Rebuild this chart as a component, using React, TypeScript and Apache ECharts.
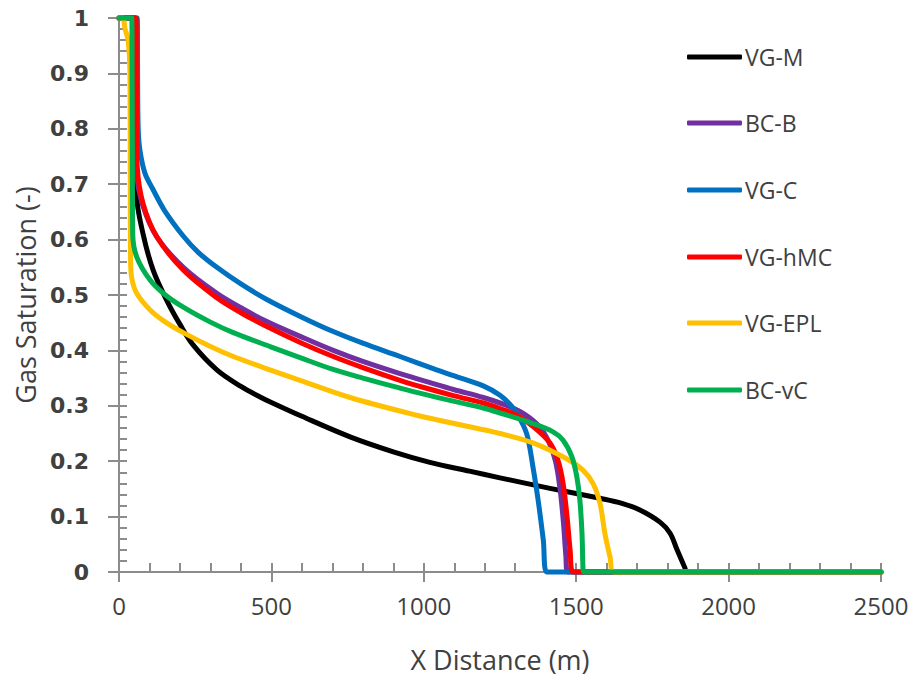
import React, { useEffect, useRef } from "react";
import * as echarts from "echarts";

// Gas saturation profiles along the x distance, one per relative-permeability model
const seriesNames = ["VG-M", "BC-B", "VG-C", "VG-hMC", "VG-EPL", "BC-vC"];
const seriesColors = ["#000000", "#7030A0", "#0070C0", "#FF0000", "#FFC000", "#00B050"];

const vgM: [number, number][] = [
  [0, 1], [52, 1], [56, 0.85], [58, 0.68], [79, 0.61], [112, 0.545], [157, 0.49],
  [200, 0.447], [243, 0.41], [321, 0.365], [400, 0.335], [463, 0.316], [500, 0.306],
  [600, 0.281], [758, 0.244], [900, 0.217], [1020, 0.198], [1150, 0.182], [1250, 0.17],
  [1414, 0.151], [1578, 0.133], [1650, 0.124], [1709, 0.112], [1775, 0.09], [1808, 0.07],
  [1831, 0.04], [1857, 0.007], [1862, 0], [2500, 0],
];

const bcB: [number, number][] = [
  [0, 1], [54, 1], [55, 0.9], [56, 0.78], [58, 0.72], [79, 0.66], [124, 0.605],
  [211, 0.55], [321, 0.503], [400, 0.477], [485, 0.452], [600, 0.424], [703, 0.4],
  [800, 0.38], [922, 0.358], [1031, 0.34], [1100, 0.329], [1195, 0.315], [1270, 0.301],
  [1330, 0.285], [1380, 0.262], [1410, 0.235], [1432, 0.2], [1447, 0.15], [1458, 0.09],
  [1466, 0.03], [1472, 0], [2500, 0],
];

const vgC: [number, number][] = [
  [0, 1], [60, 1], [61, 0.9], [63, 0.8], [69, 0.76], [85, 0.72], [112, 0.69],
  [150, 0.652], [210, 0.607], [260, 0.577], [321, 0.55], [400, 0.52], [485, 0.492],
  [600, 0.46], [703, 0.434], [800, 0.413], [922, 0.389], [1031, 0.367], [1100, 0.354],
  [1195, 0.336], [1250, 0.319], [1290, 0.298], [1320, 0.272], [1340, 0.245],
  [1358, 0.19], [1375, 0.13], [1392, 0.058], [1404, 0], [2500, 0],
];

const vgHMC: [number, number][] = [
  [0, 1], [56, 1], [57, 0.9], [58, 0.78], [60, 0.73], [79, 0.665], [124, 0.605],
  [211, 0.545], [321, 0.495], [400, 0.468], [485, 0.443], [600, 0.413], [703, 0.389],
  [800, 0.369], [922, 0.346], [1000, 0.333], [1100, 0.318], [1195, 0.305], [1250, 0.295],
  [1306, 0.283], [1358, 0.263], [1414, 0.233], [1440, 0.202], [1457, 0.16],
  [1470, 0.1], [1480, 0.04], [1490, 0], [2500, 0],
];

const vgEPL: [number, number][] = [
  [0, 1], [12, 1], [20, 0.98], [30, 0.96], [36, 0.9], [37, 0.7], [38, 0.56],
  [42, 0.53], [58, 0.503], [102, 0.473], [150, 0.452], [211, 0.432], [300, 0.407],
  [375, 0.389], [500, 0.364], [594, 0.346], [758, 0.315], [977, 0.283], [1100, 0.268],
  [1250, 0.25], [1358, 0.233], [1470, 0.204], [1522, 0.184], [1555, 0.16],
  [1578, 0.124], [1594, 0.07], [1611, 0.027], [1624, 0], [2500, 0],
];

const bcVC: [number, number][] = [
  [0, 1], [42, 1], [43, 0.9], [44, 0.7], [45, 0.61], [58, 0.569], [102, 0.527],
  [150, 0.501], [211, 0.478], [300, 0.451], [375, 0.432], [500, 0.406], [594, 0.387],
  [700, 0.366], [800, 0.35], [922, 0.332], [1000, 0.321], [1100, 0.308],
  [1195, 0.296], [1250, 0.287], [1358, 0.268], [1424, 0.253], [1457, 0.238],
  [1486, 0.208], [1502, 0.172], [1512, 0.13], [1519, 0.07], [1522, 0.01],
  [1524, 0], [2500, 0],
];

const seriesData = [vgM, bcB, vgC, vgHMC, vgEPL, bcVC];

// Vertical centre of each legend row, in pixels
const legendRows = [57, 123, 190, 257, 323, 390];

const xTicks = { min: 0, max: 2500, major: 500, minor: 100 };
const yTicks = { min: 0, max: 1, major: 0.1, minor: 0.02 };

const axisGray = "#8c8c8c";
const textColor = "#404040";
const sansFont = "'Open Sans', Lato, sans-serif";

export default function App() {
  const ref = useRef<HTMLDivElement>(null);

  useEffect(() => {
    if (!ref.current) return;
    const chart = echarts.init(ref.current, undefined, { renderer: "svg" });

    const option: echarts.EChartsOption = {
      animation: false,
      backgroundColor: "#ffffff",
      grid: { left: 119, right: 38, top: 18, bottom: 110, containLabel: false },
      xAxis: [
        {
          type: "value",
          min: xTicks.min,
          max: xTicks.max,
          interval: xTicks.major,
          name: "X Distance (m)",
          nameLocation: "middle",
          nameGap: 74,
          nameTextStyle: { fontFamily: sansFont, fontSize: 27, color: textColor },
          axisLine: { show: true, lineStyle: { color: axisGray, width: 2 } },
          axisTick: { show: true, inside: false, length: 10, lineStyle: { color: axisGray, width: 2 } },
          axisLabel: {
            margin: 21,
            fontFamily: sansFont,
            fontSize: 24,
            color: textColor,
            formatter: (v: number) => String(v),
          },
          splitLine: { show: false },
        },
        {
          type: "value",
          min: xTicks.min,
          max: xTicks.max,
          interval: xTicks.minor,
          position: "bottom",
          axisLine: { show: false },
          axisTick: { show: true, inside: true, length: 9, lineStyle: { color: axisGray, width: 2 } },
          axisLabel: { show: false },
          splitLine: { show: false },
        },
      ],
      yAxis: [
        {
          type: "value",
          min: yTicks.min,
          max: yTicks.max,
          interval: yTicks.major,
          name: "Gas Saturation (-)",
          nameLocation: "middle",
          nameGap: 80,
          nameTextStyle: { fontFamily: sansFont, fontSize: 27, color: textColor },
          axisLine: { show: true, lineStyle: { color: axisGray, width: 2 } },
          axisTick: { show: true, inside: false, length: 11, lineStyle: { color: axisGray, width: 2 } },
          axisLabel: {
            margin: 30,
            fontFamily: "'DejaVu Sans', Verdana, sans-serif",
            fontWeight: "bold",
            fontSize: 22,
            color: textColor,
            formatter: (v: number) => String(Math.round(v * 10) / 10),
          },
          splitLine: { show: false },
        },
        {
          type: "value",
          min: yTicks.min,
          max: yTicks.max,
          interval: yTicks.minor,
          position: "left",
          axisLine: { show: false },
          axisTick: { show: true, inside: true, length: 8, lineStyle: { color: axisGray, width: 2 } },
          axisLabel: { show: false },
          splitLine: { show: false },
        },
      ],
      legend: seriesNames.map((name, i) => ({
        data: [name],
        left: 687,
        top: legendRows[i] - 12,
        padding: 0,
        orient: "vertical",
        icon: "roundRect",
        itemWidth: 55,
        itemHeight: 5,
        itemGap: 4,
        selectedMode: false,
        textStyle: { fontFamily: sansFont, fontSize: 23, color: textColor, lineHeight: 24, padding: [0, 0, 0, -2] },
      })),
      series: seriesNames.map((name, i) => ({
        name,
        type: "line",
        xAxisIndex: 0,
        yAxisIndex: 0,
        data: seriesData[i],
        showSymbol: false,
        symbol: "none",
        smooth: 0.35,
        clip: false,
        color: seriesColors[i],
        lineStyle: { color: seriesColors[i], width: 5, cap: "round", join: "round" },
        z: 2 + i,
      })),
    };

    chart.setOption(option);
    return () => chart.dispose();
  }, []);

  return (
    <div
      ref={ref}
      style={{ position: "fixed", left: 0, top: 0, width: 919, height: 682, background: "#fff" }}
    />
  );
}
